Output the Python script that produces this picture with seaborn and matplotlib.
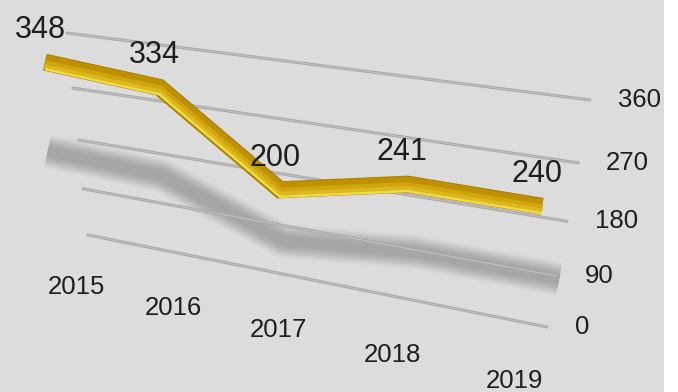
import numpy as np
import pandas as pd
import matplotlib
matplotlib.use("Agg")
import matplotlib.pyplot as plt
import matplotlib.transforms as mtransforms
from matplotlib.patches import Rectangle
import matplotlib.colors as mcolors
import seaborn as sns

# ---------------- data ----------------
years = ["2015", "2016", "2017", "2018", "2019"]
values = [348, 334, 200, 241, 240]
axis_ticks = [0, 90, 180, 270, 360]

df = pd.DataFrame({"idx": np.arange(len(years)), "value": values})

# ---------------- style ----------------
sns.set_theme(style="white")
plt.rcParams["font.family"] = ["Liberation Sans", "DejaVu Sans"]
TEXT = "#1e1e1e"
BG = "#dcdcdc"

W, H = 678, 392
fig = plt.figure(figsize=(W / 100, H / 100), dpi=100, facecolor="white")
ax = fig.add_axes([0, 0, 1, 1])
ax.set_xlim(0, W)
ax.set_ylim(H, 0)
ax.axis("off")
ax.add_patch(Rectangle((0, 0), 664, H, facecolor=BG, edgecolor="none", zorder=0))


def px(p):
    return p * 72 / 100


def blend(c1, c2, f):
    a = np.array(mcolors.to_rgb(c1))
    b = np.array(mcolors.to_rgb(c2))
    return tuple(a + (b - a) * f)


# ---------------- perspective transforms ----------------
class Persp(mtransforms.Transform):
    input_dims = 2
    output_dims = 2
    is_separable = False

    def __init__(self, M):
        super().__init__()
        self.M = np.asarray(M, float)

    def transform_non_affine(self, values):
        v = np.atleast_2d(np.asarray(values, float))
        p = np.c_[v, np.ones(len(v))] @ self.M.T
        return p[:, :2] / p[:, 2:3]


def homography(src, dst):
    A, b = [], []
    for (x, y), (u, w) in zip(src, dst):
        A.append([x, y, 1, 0, 0, 0, -u * x, -u * y]); b.append(u)
        A.append([0, 0, 0, x, y, 1, -w * x, -w * y]); b.append(w)
    h = np.linalg.solve(np.array(A, float), np.array(b, float))
    return np.append(h, 1).reshape(3, 3)


# back wall (grid)
IL, IR = 0.2, 4.0
vmax = axis_ticks[-1]
H_wall = homography([(IL, vmax), (IR, vmax), (IL, 0), (IR, 0)],
                    [(67, 33), (590, 100), (88, 235), (547, 327)])
# front ribbon plane
H_front = np.array([[110.3, 0.0, 45.0], [14.5, -0.6, 271.0], [-0.0258, 0.0, 1.0]])
# shadow cast on wall
H_shadow = H_wall @ np.array([[1.03, 0, -0.1], [0, 0.59, -56.0], [0, 0, 1.0]])
# floor (year labels)
H_floor = np.array([[91.7, 0.0, 76.0], [10.1, 1.0, 287.0], [-0.035, 0.0, 1.0]])

T_wall = Persp(H_wall) + ax.transData
T_front = Persp(H_front) + ax.transData
T_shadow = Persp(H_shadow) + ax.transData
T_floor = Persp(H_floor) + ax.transData

# ---------------- shadow (soft, solid layers) ----------------
shadow_core = "#a0a0a0"
for w, f in [(34, 0.10), (30, 0.24), (26, 0.40), (22, 0.56), (18, 0.70),
             (14, 0.82), (10, 0.90)]:
    sns.lineplot(data=df, x="idx", y="value", ax=ax, color=blend(BG, shadow_core, f),
                 linewidth=px(w), transform=T_shadow, zorder=1,
                 solid_capstyle="butt", solid_joinstyle="round")

# ---------------- gridlines ----------------
for t in axis_ticks:
    ax.plot([IL, IR], [t, t], color="#a6a6a6", linewidth=px(3.0), transform=T_wall,
            zorder=2, solid_capstyle="round")
    ax.plot([IL, IR], [t, t], color="#c4c4c8", linewidth=px(1.0), transform=T_wall,
            zorder=2.1, solid_capstyle="round")
    ax.annotate(str(t), xy=(IR, t), xycoords=T_wall, xytext=(28, 0),
                textcoords="offset pixels", ha="left", va="center",
                fontsize=18.5, color=TEXT, zorder=5)

# ---------------- ribbon ----------------
layers = [
    (17, "#a88000", 0),
    (14, "#bf9000", 0.5),
    (9, "#cfa60e", -2.5),
    (5, "#dcb81e", -4.5),
    (2.4, "#f0dc48", -7),
]
for w, c, dy in layers:
    tr = T_front + mtransforms.Affine2D().translate(0, dy)
    sns.lineplot(data=df, x="idx", y="value", ax=ax, color=c, linewidth=px(w),
                 transform=tr, zorder=3, solid_capstyle="butt",
                 solid_joinstyle="miter")

for i, v in zip(df["idx"], df["value"]):
    ax.annotate(str(v), xy=(i, v), xycoords=T_front, xytext=(-5, 32),
                textcoords="offset pixels", ha="center", va="center",
                fontsize=22, color=TEXT, zorder=6)

# ---------------- year labels ----------------
for i, y in enumerate(years):
    ax.annotate(y, xy=(i, 0), xycoords=T_floor, ha="center", va="center",
                fontsize=18.5, color=TEXT, zorder=5)

ax.set_xlim(0, W)
ax.set_ylim(H, 0)
ax.set_xlabel("")
ax.set_ylabel("")
if ax.get_legend() is not None:
    ax.get_legend().remove()

fig.savefig("out.png", dpi=100, facecolor="white")
